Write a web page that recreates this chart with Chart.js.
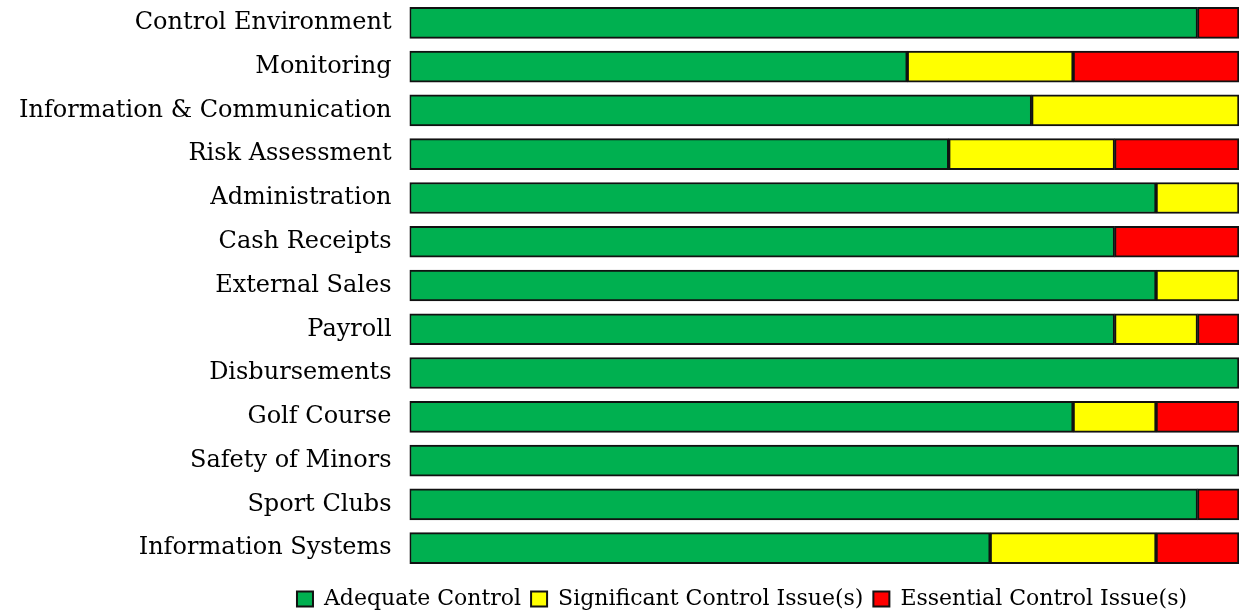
<!DOCTYPE html>
<html>
<head>
<meta charset="utf-8">
<title>Internal Control Ratings</title>
<script src="https://cdn.jsdelivr.net/npm/chart.js@4.4.1/dist/chart.umd.min.js"></script>
<style>
  html, body { margin: 0; padding: 0; background: #fff; }
  #wrap { width: 1241px; height: 616px; position: relative; }
</style>
</head>
<body>
<div id="wrap"><canvas id="controlChart"></canvas></div>
<script>
  // Share of each area rated in each category (percent)
  const areas = [
    'Control Environment', 'Monitoring', 'Information & Communication', 'Risk Assessment',
    'Administration', 'Cash Receipts', 'External Sales', 'Payroll', 'Disbursements',
    'Golf Course', 'Safety of Minors', 'Sport Clubs', 'Information Systems'
  ];
  const adequate    = [95, 60, 75, 65, 90, 85, 90, 85, 100, 80, 100, 95, 70];
  const significant = [0, 20, 25, 20, 10, 0, 10, 10, 0, 10, 0, 0, 20];
  const essential   = [5, 20, 0, 15, 0, 15, 0, 5, 0, 10, 0, 5, 10];

  const serif = "'DejaVu Serif', serif";

  function series(label, values, color) {
    return {
      label: label,
      data: values.map(v => v || null),
      backgroundColor: color,
      borderColor: '#111',
      borderWidth: 2,
      borderSkipped: false,
      barThickness: 31
    };
  }

  // nudge the legend so it sits under the bars rather than the whole canvas
  const legendShift = {
    id: 'legendShift',
    beforeDraw(chart) {
      const lg = chart.legend;
      if (!lg || lg._shifted) return;
      const dx = 122, dy = 8;
      lg.left += dx; lg.right += dx;
      lg.top += dy; lg.bottom += dy;
      lg.legendHitBoxes.forEach(b => { b.left += dx; b.top += dy; });
      lg._shifted = true;
    }
  };

  new Chart(document.getElementById('controlChart'), {
    type: 'bar',
    data: {
      labels: areas,
      datasets: [
        series('Adequate Control', adequate, '#00b050'),
        series('Significant Control Issue(s)', significant, '#ffff00'),
        series('Essential Control Issue(s)', essential, '#ff0000')
      ]
    },
    options: {
      indexAxis: 'y',
      responsive: true,
      maintainAspectRatio: false,
      animation: false,
      layout: { padding: { top: 1, right: 2, left: 1, bottom: 4 } },
      plugins: {
        legend: {
          position: 'bottom',
          labels: {
            font: { family: serif, size: 22 },
            color: '#000',
            boxWidth: 16,
            boxHeight: 15,
            padding: 10
          }
        },
        tooltip: { enabled: false }
      },
      scales: {
        x: { stacked: true, min: 0, max: 100, display: false },
        y: {
          stacked: true,
          grid: { display: false, drawTicks: false },
          border: { display: false },
          ticks: { font: { family: serif, size: 24 }, color: '#000', padding: 18 },
          // labels sit mid-band, so no extra room is needed above or below
          afterFit(scale) {
            scale.paddingTop = 0;
            scale.paddingBottom = 0;
          }
        }
      }
    },
    plugins: [legendShift]
  });
</script>
</body>
</html>
